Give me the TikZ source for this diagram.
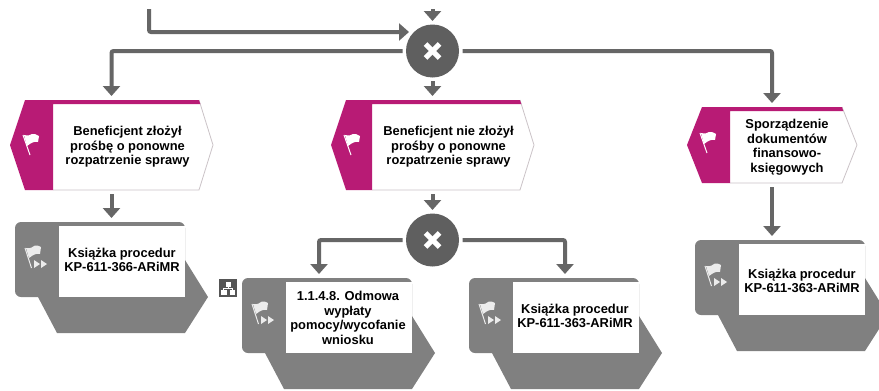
\documentclass[tikz,border=0pt]{standalone}
\usepackage{fontspec}
\setmainfont{Liberation Sans}
\usetikzlibrary{arrows.meta}
\definecolor{evmag}{HTML}{B81B75}
\definecolor{evedge}{HTML}{CBC3C7}
\definecolor{procgray}{HTML}{808080}
\definecolor{gatedark}{HTML}{5F5F5F}
\definecolor{linegray}{HTML}{666666}
\definecolor{iconbg}{HTML}{555555}
\tikzset{
  conn/.style={draw=linegray,line width=4pt,rounded corners=2pt,-{Triangle[length=10pt,width=17pt]}},
  gate/.style={circle,fill=gatedark,draw=none,minimum size=53pt,inner sep=0pt,outer sep=3.5pt},
  xmark/.style={draw=white,line width=5pt},
  box/.style={draw=none,inner sep=0pt,outer sep=4pt},
  label/.style={align=center,font=\fontsize{12.9}{14.5}\selectfont\bfseries,inner sep=0pt,text=black},
}
% event shape: tip-left x, top y, bottom y, topleft x, band right x, top right x, tip right x
\newcommand{\evshape}[7]{%
  \fill[white] (#4,#2) -- (#6,#2) -- (#7,{(#2+#3)/2}) -- (#6,#3) -- (#4,#3) -- cycle;
  \draw[evedge,line width=0.8pt] (#6,#2) -- (#7,{(#2+#3)/2}) -- (#6,#3) -- (#5,#3);
  \fill[evmag] (#1,{(#2+#3)/2}) -- (#4,#2) -- (#6,#2) -- ({#6+1.3},{#2+4}) -- (#5,{#2+4}) -- (#5,#3) -- (#4,#3) -- cycle;
}
\newcommand{\flagicon}[2]{%
  \begin{scope}[shift={(#1,#2)}]
    \draw[white,line width=1pt] (0,0) -- (7,20);
    \fill[white] (1,0) .. controls (5,1) and (8,0) .. (9,-1) .. controls (11,-2) and (14,0) .. (16,1)
      -- (15,7) .. controls (11,6) and (8,8) .. (4,11) -- cycle;
  \end{scope}}
\newcommand{\procshape}[2]{%
  \begin{scope}[shift={(#1,#2)}]
    \fill[procgray] (185,260) -- (208,297) -- (185,333) -- (57,333) -- (38,297) -- cycle;
    \fill[procgray,rounded corners=6pt] (15,222) rectangle (185,297);
    \fill[white] (59,226) rectangle (184.5,297);
    \draw[white!85!procgray,line width=1pt] (25,248) -- (31.5,268);
    \fill[white!85!procgray] (26,248) .. controls (30,249) and (33,247) .. (35,245.5) .. controls (37,245) and (39,246) .. (41,247)
      -- (40,254) .. controls (36,253) and (33,255) .. (29,258) -- cycle;
    \fill[white!85!procgray] (34,260) -- (40,264) -- (34,268) -- cycle;
    \fill[white!85!procgray] (41,260) -- (47,264) -- (41,268) -- cycle;
  \end{scope}}
\begin{document}
\begin{tikzpicture}[x=1pt,y=-1pt]
\useasboundingbox (0,0) rectangle (879,391);
\clip (0,0) rectangle (879,391);
\fill[white] (0,0) rectangle (879,391);

% shapes
\evshape{10}{100}{190}{25}{53}{199}{213}
\evshape{331}{100}{190}{346}{372}{520}{534}
\evshape{687}{107}{183}{702}{730}{842}{857}
\flagicon{23}{135}
\flagicon{344}{135}
\flagicon{700}{133}
\procshape{0}{0}
\procshape{227}{56}
\procshape{454}{56}
\procshape{680}{18}

% hierarchy icon
\fill[iconbg] (219,279) rectangle (236.5,296.5);
\fill[white] (225.5,282) rectangle (230.5,286.5);
\fill[white] (221,289.5) rectangle (226.5,294.5);
\fill[white] (229.5,289.5) rectangle (235,294.5);
\draw[white,line width=0.8pt] (228,286.5) -- (228,288) (223.7,289.5) -- (223.7,288) -- (232.2,288) -- (232.2,289.5);

% anchor boxes
\node[box,minimum width=203pt,minimum height=90pt] (e1) at (111.5,145) {};
\node[box,minimum width=203pt,minimum height=90pt] (e2) at (432.5,145) {};
\node[box,minimum width=170pt,minimum height=76pt] (e3) at (772,145) {};
\node[box,minimum width=193pt,minimum height=111pt] (p1) at (111.5,277.5) {};
\node[box,minimum width=192pt,minimum height=111pt] (p2) at (338,333.5) {};
\node[box,minimum width=192pt,minimum height=111pt] (p3) at (565,333.5) {};
\node[box,minimum width=192pt,minimum height=111pt] (p4) at (791,295.5) {};

% gateways
\node[gate] (g1) at (432.5,51) {};
\node[gate] (g2) at (432.5,240) {};
\foreach \g in {g1,g2}{
  \draw[xmark] ([shift={(-7,-7)}]\g.center) -- ([shift={(7,7)}]\g.center);
  \draw[xmark] ([shift={(-7,7)}]\g.center) -- ([shift={(7,-7)}]\g.center);
}

% free ends
\coordinate (startA) at (149,9);
\coordinate (g1in) at (409,32);
\coordinate (startB) at (432.5,9);
\coordinate (p2in) at (319,274);

% connectors
\draw[conn] (startA) |- (g1in);
\draw[conn] (startB) -- (g1.north);
\draw[conn] (g1.west) -| (e1.north);
\draw[conn] (g1.south) -- (e2.north);
\draw[conn] (g1.east) -| (e3.north);
\draw[conn] (e1.south) -- (p1.north);
\draw[conn] (e2.south) -- (g2.north);
\draw[conn] (e3.south) -- (e3.south |- p4.north);
\draw[conn] (g2.west) -| (p2in);
\draw[conn] (g2.east) -| (p3.north);

% labels
\node[label] (t1) at (127.5,147) {Beneficjent złożył\\prośbę o ponowne\\rozpatrzenie sprawy};
\node[label] (t2) at (448.5,147) {Beneficjent nie złożył\\prośby o ponowne\\rozpatrzenie sprawy};
\node[label] (t3) at (787,147) {Sporządzenie\\dokumentów\\finansowo-\\księgowych};
\node[label] (t4) at (122,260) {Książka procedur\\KP-611-366-ARiMR};
\node[label] (t5) at (348,318) {1.1.4.8. Odmowa\\wypłaty\\pomocy/wycofanie\\wniosku};
\node[label] (t6) at (575,316) {Książka procedur\\KP-611-363-ARiMR};
\node[label] (t7) at (802,281) {Książka procedur\\KP-611-363-ARiMR};
\end{tikzpicture}
\end{document}
